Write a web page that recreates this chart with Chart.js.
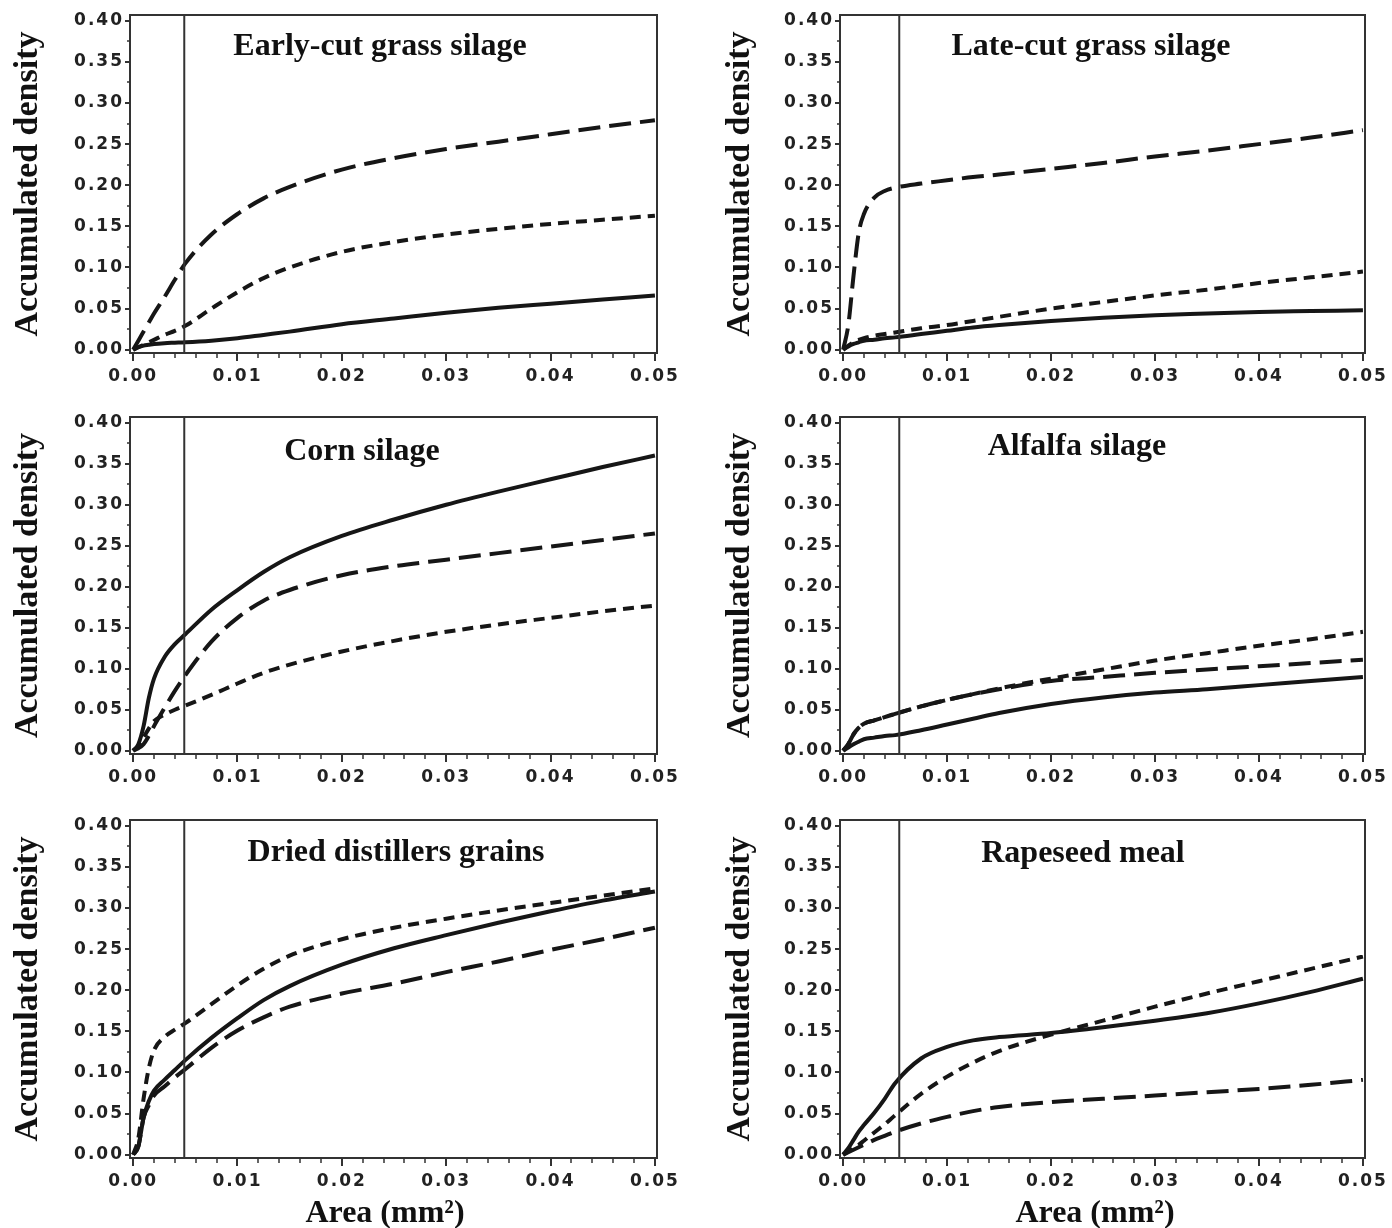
<!DOCTYPE html>
<html><head><meta charset="utf-8">
<script src="https://cdn.jsdelivr.net/npm/chart.js@4"></script>
<style>
html,body{margin:0;padding:0;background:#fff;}
#wrap{position:relative;width:1392px;height:1228px;background:#fff;overflow:hidden;}
canvas{position:absolute;}
</style></head><body><div id="wrap"></div>
<script>
// ---------- data ----------
const areaGrid = [0, 0.0005, 0.001, 0.0015, 0.002, 0.003, 0.004, 0.005, 0.0075, 0.01, 0.0125, 0.015, 0.02, 0.025, 0.03, 0.035, 0.04, 0.045, 0.05];

const earlyCutSolid = [0, 0.003, 0.005, 0.006, 0.007, 0.008, 0.0085, 0.009, 0.011, 0.014, 0.018, 0.022, 0.031, 0.038, 0.045, 0.051, 0.056, 0.061, 0.066];
const earlyCutLong  = [0, 0.011, 0.022, 0.033, 0.044, 0.064, 0.085, 0.105, 0.140, 0.165, 0.184, 0.198, 0.219, 0.233, 0.244, 0.253, 0.262, 0.271, 0.279];
const earlyCutShort = [0, 0.003, 0.006, 0.009, 0.012, 0.018, 0.023, 0.029, 0.050, 0.070, 0.087, 0.100, 0.119, 0.131, 0.140, 0.147, 0.153, 0.158, 0.163];

const lateCutSolid = [0, 0.004, 0.007, 0.009, 0.011, 0.012, 0.014, 0.015, 0.019, 0.023, 0.027, 0.030, 0.035, 0.039, 0.042, 0.044, 0.046, 0.047, 0.048];
const lateCutLong  = [0, 0.030, 0.090, 0.142, 0.165, 0.185, 0.193, 0.197, 0.202, 0.206, 0.210, 0.213, 0.220, 0.227, 0.235, 0.242, 0.250, 0.258, 0.267];
const lateCutShort = [0, 0.005, 0.009, 0.012, 0.014, 0.017, 0.019, 0.021, 0.026, 0.030, 0.035, 0.040, 0.050, 0.058, 0.066, 0.073, 0.081, 0.088, 0.095];

const cornSolid = [0, 0.008, 0.030, 0.064, 0.088, 0.114, 0.130, 0.142, 0.172, 0.196, 0.218, 0.236, 0.262, 0.282, 0.300, 0.316, 0.331, 0.346, 0.360];
const cornLong  = [0, 0.003, 0.008, 0.018, 0.030, 0.052, 0.073, 0.092, 0.133, 0.162, 0.183, 0.196, 0.214, 0.225, 0.233, 0.241, 0.249, 0.257, 0.265];
const cornShort = [0, 0.006, 0.016, 0.027, 0.036, 0.044, 0.050, 0.055, 0.068, 0.082, 0.095, 0.105, 0.121, 0.134, 0.145, 0.154, 0.162, 0.170, 0.177];

const alfalfaSolid = [0, 0.004, 0.008, 0.011, 0.014, 0.016, 0.018, 0.019, 0.025, 0.032, 0.039, 0.046, 0.057, 0.065, 0.071, 0.075, 0.080, 0.085, 0.090];
const alfalfaLong  = [0, 0.008, 0.020, 0.028, 0.033, 0.037, 0.041, 0.045, 0.054, 0.062, 0.069, 0.075, 0.085, 0.090, 0.095, 0.099, 0.103, 0.107, 0.111];
const alfalfaShort = [0, 0.008, 0.020, 0.028, 0.033, 0.037, 0.041, 0.045, 0.054, 0.062, 0.069, 0.076, 0.088, 0.099, 0.110, 0.119, 0.128, 0.136, 0.145];

const ddgSolid = [0, 0.010, 0.045, 0.065, 0.078, 0.091, 0.103, 0.115, 0.142, 0.166, 0.188, 0.205, 0.231, 0.251, 0.267, 0.282, 0.296, 0.309, 0.320];
const ddgLong  = [0, 0.010, 0.045, 0.060, 0.072, 0.083, 0.094, 0.104, 0.130, 0.151, 0.167, 0.180, 0.196, 0.208, 0.222, 0.235, 0.249, 0.262, 0.276];
const ddgShort = [0, 0.020, 0.068, 0.105, 0.127, 0.143, 0.152, 0.160, 0.183, 0.206, 0.226, 0.242, 0.262, 0.276, 0.287, 0.297, 0.306, 0.315, 0.324];

const rapeSolid = [0, 0.008, 0.018, 0.028, 0.036, 0.051, 0.068, 0.087, 0.117, 0.131, 0.139, 0.143, 0.148, 0.155, 0.163, 0.172, 0.184, 0.198, 0.214];
const rapeLong  = [0, 0.003, 0.006, 0.009, 0.012, 0.018, 0.023, 0.028, 0.038, 0.046, 0.053, 0.058, 0.064, 0.068, 0.072, 0.076, 0.080, 0.085, 0.091];
const rapeShort = [0, 0.004, 0.008, 0.012, 0.017, 0.027, 0.037, 0.048, 0.074, 0.095, 0.112, 0.126, 0.146, 0.163, 0.180, 0.196, 0.211, 0.226, 0.241];

const panelTitles = ["Early-cut grass silage", "Late-cut grass silage", "Corn silage", "Alfalfa silage", "Dried distillers grains", "Rapeseed meal"];
const cutoffArea = [0.0049, 0.0054, 0.0049, 0.0054, 0.0049, 0.0054];

const xMajorTicks = [0, 0.01, 0.02, 0.03, 0.04, 0.05];
const xMinorTicks = [0.002, 0.004, 0.006, 0.008, 0.012, 0.014, 0.016, 0.018, 0.022, 0.024, 0.026, 0.028, 0.032, 0.034, 0.036, 0.038, 0.042, 0.044, 0.046, 0.048];
const yMajorTicks = [0, 0.05, 0.10, 0.15, 0.20, 0.25, 0.30, 0.35, 0.40];
const yMinorTicks = [0.025, 0.075, 0.125, 0.175, 0.225, 0.275, 0.325, 0.375];

const yAxisTitle = "Accumulated density";
const xAxisTitle = "Area (mm²)";

// ---------- layout (page pixels) ----------
const X_MIN = -0.0003, X_MAX = 0.0502, Y_MIN = -0.004, Y_MAX = 0.407;
const cols = [
  {left: 0,   width: 696, frameLeft: 130, frameRight: 657, yTitleX: 37},
  {left: 696, width: 696, frameLeft: 840, frameRight: 1365, yTitleX: 749}
];
const rows = [
  {top: 0,   height: 400, frameTop: 15,  frameBottom: 353},
  {top: 400, height: 400, frameTop: 417, frameBottom: 754},
  {top: 800, height: 428, frameTop: 820, frameBottom: 1158}
];
const titlePos = [[380, 47], [1091, 47], [362, 452], [1077, 447], [396, 853], [1083, 854]];
const xTitlePos = [[385, 1222], [1095, 1222]];

const panels = [
  {solid: earlyCutSolid, longDash: earlyCutLong, shortDash: earlyCutShort},
  {solid: lateCutSolid,  longDash: lateCutLong,  shortDash: lateCutShort},
  {solid: cornSolid,     longDash: cornLong,     shortDash: cornShort},
  {solid: alfalfaSolid,  longDash: alfalfaLong,  shortDash: alfalfaShort},
  {solid: ddgSolid,      longDash: ddgLong,      shortDash: ddgShort},
  {solid: rapeSolid,     longDash: rapeLong,     shortDash: rapeShort}
];

const TICK_FONT = {family: '"DejaVu Sans", sans-serif', size: 17, weight: 'bold'};
const INK = '#161616', FRAME = '#333';

const decor = {
  id: 'panelDecor',
  beforeDraw(chart) { chart.ctx.letterSpacing = '2px'; },
  beforeDatasetsDraw(chart) { chart.ctx.letterSpacing = '0px'; },
  afterDraw(chart, args, o) {
    const ctx = chart.ctx, a = chart.chartArea, xs = chart.scales.x, ys = chart.scales.y;
    ctx.save();
    ctx.letterSpacing = '0px';
    ctx.strokeStyle = FRAME; ctx.lineWidth = 2;
    ctx.strokeRect(a.left, a.top, a.right - a.left, a.bottom - a.top);
    ctx.lineWidth = 1.5;
    ctx.beginPath();
    xMinorTicks.forEach(v => { const p = Math.round(xs.getPixelForValue(v)); ctx.moveTo(p, a.bottom); ctx.lineTo(p, a.bottom + 5); });
    yMinorTicks.forEach(v => { const p = Math.round(ys.getPixelForValue(v)); ctx.moveTo(a.left, p); ctx.lineTo(a.left - 3, p); });
    ctx.stroke();
    ctx.fillStyle = '#111';
    ctx.textAlign = 'center';
    ctx.textBaseline = 'middle';
    ctx.font = 'bold 32px "Liberation Serif", serif';
    ctx.fillText(o.title, o.titleX, o.titleY);
    ctx.save();
    ctx.translate(o.yTitleX, (a.top + a.bottom) / 2);
    ctx.rotate(-Math.PI / 2);
    ctx.textBaseline = 'alphabetic';
    ctx.font = 'bold 34px "Liberation Serif", serif';
    ctx.fillText(yAxisTitle, 0, 0);
    ctx.restore();
    if (o.xTitle) {
      ctx.textBaseline = 'alphabetic';
      ctx.font = 'bold 32px "Liberation Serif", serif';
      ctx.fillText(o.xTitle, o.xTitleX, o.xTitleY);
    }
    ctx.restore();
  }
};

const wrap = document.getElementById('wrap');
panels.forEach((p, i) => {
  const col = cols[i % 2], row = rows[Math.floor(i / 2)];
  const cv = document.createElement('canvas');
  cv.width = col.width; cv.height = row.height;
  cv.style.left = col.left + 'px'; cv.style.top = row.top + 'px';
  cv.style.width = col.width + 'px'; cv.style.height = row.height + 'px';
  wrap.appendChild(cv);
  const pts = ys => areaGrid.map((x, k) => ({x: x, y: ys[k]}));
  const curve = {borderColor: INK, borderWidth: 4, pointRadius: 0, fill: false, cubicInterpolationMode: 'monotone', borderCapStyle: 'butt'};
  const isBottom = Math.floor(i / 2) === 2;
  new Chart(cv, {
    type: 'line',
    data: {datasets: [
      {data: [{x: cutoffArea[i], y: Y_MIN}, {x: cutoffArea[i], y: Y_MAX}], borderColor: FRAME, borderWidth: 2, pointRadius: 0, tension: 0, fill: false},
      Object.assign({data: pts(p.shortDash), borderDash: [11, 7]}, curve),
      Object.assign({data: pts(p.longDash), borderDash: [22, 9]}, curve),
      Object.assign({data: pts(p.solid)}, curve)
    ]},
    options: {
      responsive: false, animation: false, devicePixelRatio: 1,
      layout: {padding: {top: row.frameTop - row.top, right: col.left + col.width - col.frameRight, left: 0, bottom: 0}},
      scales: {
        x: {
          type: 'linear', min: X_MIN, max: X_MAX,
          afterBuildTicks: s => { s.ticks = xMajorTicks.map(v => ({value: v})); },
          afterFit: s => { s.height = row.top + row.height - row.frameBottom; },
          ticks: {callback: v => Number(v).toFixed(2), font: TICK_FONT, color: '#222', padding: 5, maxRotation: 0, autoSkip: false},
          grid: {drawOnChartArea: false, drawTicks: true, tickLength: 8, color: FRAME, lineWidth: 2},
          border: {display: false}
        },
        y: {
          type: 'linear', min: Y_MIN, max: Y_MAX,
          afterBuildTicks: s => { s.ticks = yMajorTicks.map(v => ({value: v})); },
          afterFit: s => { s.width = col.frameLeft - col.left; },
          ticks: {callback: v => Number(v).toFixed(2), font: TICK_FONT, color: '#222', padding: 1, autoSkip: false},
          grid: {drawOnChartArea: false, drawTicks: true, tickLength: 5, color: FRAME, lineWidth: 2},
          border: {display: false}
        }
      },
      plugins: {
        legend: {display: false}, tooltip: {enabled: false},
        panelDecor: {
          title: panelTitles[i],
          titleX: titlePos[i][0] - col.left, titleY: titlePos[i][1] - row.top,
          yTitleX: col.yTitleX - col.left,
          xTitle: isBottom ? xAxisTitle : null,
          xTitleX: xTitlePos[i % 2][0] - col.left, xTitleY: xTitlePos[i % 2][1] - row.top
        }
      }
    },
    plugins: [decor]
  });
});
</script>
</body></html>
